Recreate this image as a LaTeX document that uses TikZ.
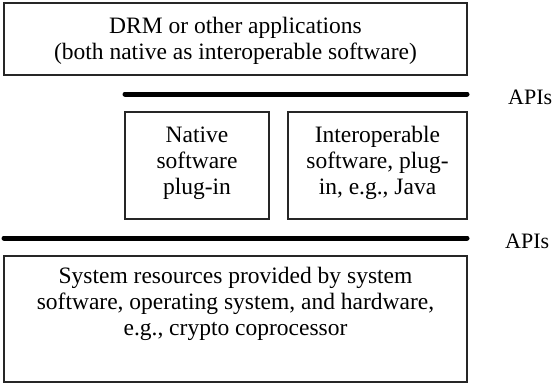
\documentclass[tikz,border=0pt]{standalone}
\usepackage{fontspec}
\setmainfont{Liberation Serif}
\begin{document}
\begin{tikzpicture}[x=1pt,y=-1pt,
  boxline/.style={draw=black!85, line width=1.1pt},
  txt/.style={align=center, inner sep=0pt, font=\fontsize{23.5}{26}\selectfont},
  api/.style={line width=5pt, line cap=round},
  apilabel/.style={anchor=base west, inner sep=0pt, font=\fontsize{22}{26}\selectfont}]
\useasboundingbox (0,0) rectangle (555,383);
% boxes
\draw[boxline] (4,3) rectangle (467,75);
\draw[boxline] (125,112) rectangle (269,219);
\draw[boxline] (288,112) rectangle (467,219);
\draw[boxline] (4,256) rectangle (467,382);
% texts
\node[txt, anchor=base] (drm) at (235.5,59.5) {DRM or other applications\\(both native as interoperable software)};
\node[txt, anchor=base] (nat) at (197,194) {Native\\software\\plug-in};
\node[txt, anchor=base] (iop) at (377.5,194) {Interoperable\\software, plug-\\in, e.g., Java};
\node[txt, anchor=base] (sys) at (235.5,335.5) {System resources provided by system\\software, operating system, and hardware,\\e.g., crypto coprocessor};
% API lines
\coordinate (a1) at (125,94);
\coordinate (a2) at (467,94);
\coordinate (b1) at (4,238);
\coordinate (b2) at (467,238);
\draw[api] (a1) -- (a2);
\draw[api] (b1) -- (b2);
\node[apilabel] (api1) at (508,104.5) {APIs};
\node[apilabel] (api2) at (505,248.5) {APIs};
\end{tikzpicture}
\end{document}
